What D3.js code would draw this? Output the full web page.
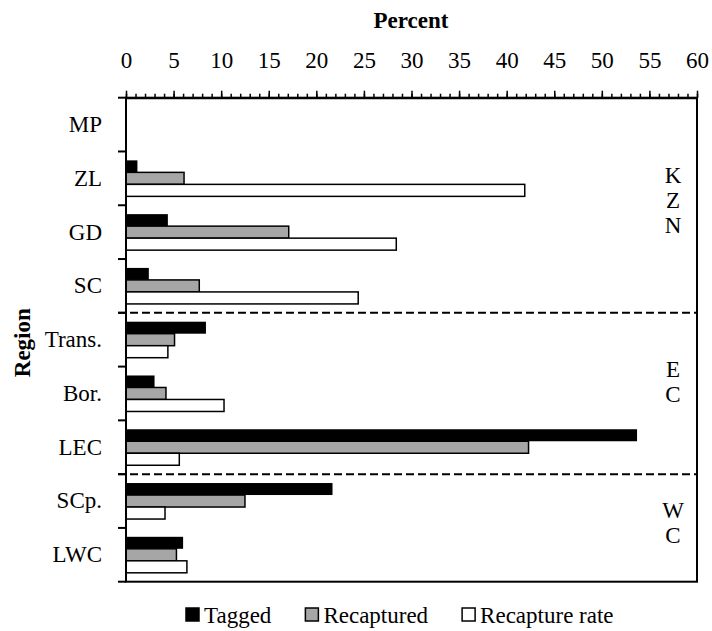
<!DOCTYPE html>
<html lang="en">
<head>
<meta charset="utf-8">
<title>Tagging by region</title>
<script src="https://d3js.org/d3.v7.min.js"></script>
<style>
  body { margin: 0; background: #fff; }
  text { font-family: "Liberation Serif", "Times New Roman", serif; fill: #000; }
</style>
</head>
<body>
<script>
// regions, top to bottom
var regions = ["MP", "ZL", "GD", "SC", "Trans.", "Bor.", "LEC", "SCp.", "LWC"];

// percent values
var tagged     = [0, 1.2, 4.4, 2.4, 8.4, 3.0, 53.7, 21.7, 6.0];
var recaptured = [0, 6.1, 17.1, 7.7, 5.1, 4.2, 42.3, 12.5, 5.3];
var rate       = [0, 41.9, 28.4, 24.4, 4.4, 10.3, 5.6, 4.1, 6.4];

var seriesNames = ["Tagged", "Recaptured", "Recapture rate"];
var seriesFill = ["#000000", "#a6a6a6", "#ffffff"];

// coast groups: label and first / last region
var groups = [
  { label: "KZN", from: "MP", to: "SC" },
  { label: "EC", from: "Trans.", to: "LEC" },
  { label: "WC", from: "SCp.", to: "LWC" }
];

var xTicks = d3.range(0, 61, 5);

var config = {
  w: 712,
  h: 631,
  left: 126,
  right: 697,
  top: 97.7,
  bottom: 581.7,
  font: 23,
  serif: "'Liberation Serif', 'Times New Roman', serif"
};

// nudge of the stacked coast labels from their section middle
var labelShift = { KZN: -5, EC: -12, WC: -5 };

var svg = d3.select("body").append("svg")
  .attr("width", config.w)
  .attr("height", config.h);

var x = d3.scaleLinear().domain([0, 60]).range([config.left, config.right]);

var y = d3.scaleBand().domain(regions).range([config.top, config.bottom]);

var ySub = d3.scaleBand().domain(seriesNames)
  .range([0, y.bandwidth()])
  .paddingInner(0)
  .paddingOuter(0.74);

// build table for bars
var table = [];
regions.forEach(function(r, i) {
  var vals = [tagged[i], recaptured[i], rate[i]];
  vals.forEach(function(v, j) {
    table.push({ region: r, series: seriesNames[j], value: v, fill: seriesFill[j] });
  });
});

// bars
svg.append("g").selectAll("rect")
  .data(table.filter(function(d) { return d.value > 0; }))
  .enter()
  .append("rect")
  .attr("x", x(0))
  .attr("y", function(d) { return y(d.region) + ySub(d.series); })
  .attr("width", function(d) { return x(d.value) - x(0); })
  .attr("height", ySub.bandwidth())
  .style("fill", function(d) { return d.fill; })
  .style("stroke", function(d) { return d.series == "Tagged" ? "none" : "#000"; })
  .style("stroke-width", 1.5);

// dashed separators between coasts
svg.append("g").selectAll("line")
  .data(groups.slice(1))
  .enter()
  .append("line")
  .attr("x1", config.left - 8)
  .attr("x2", config.right)
  .attr("y1", function(d) { return y(d.from); })
  .attr("y2", function(d) { return y(d.from); })
  .style("stroke", "#000")
  .style("stroke-width", 2)
  .style("stroke-dasharray", "8,4");

// plot frame
svg.append("rect")
  .attr("x", config.left)
  .attr("y", config.top)
  .attr("width", config.right - config.left)
  .attr("height", config.bottom - config.top)
  .style("fill", "none")
  .style("stroke", "#000")
  .style("stroke-width", 2);

// top axis: minor ticks
var minor = svg.append("g")
  .attr("transform", "translate(0," + config.top + ")")
  .call(d3.axisTop(x).tickValues(d3.range(0, 61)).tickSize(4).tickSizeOuter(0).tickFormat(""));
minor.select(".domain").remove();
minor.selectAll("line").style("stroke-width", 1.5);

// top axis: major ticks and labels
var major = svg.append("g")
  .attr("transform", "translate(0," + config.top + ")")
  .attr("font-family", null)
  .call(d3.axisTop(x).tickValues(xTicks).tickSize(7).tickSizeOuter(0).tickPadding(22.7));
major.select(".domain").style("stroke-width", 2);
major.selectAll("line").style("stroke-width", 1.5);
major.selectAll("text")
  .style("font-family", config.serif)
  .style("font-size", config.font + "px");

// left axis: category labels
var left = svg.append("g")
  .attr("transform", "translate(" + config.left + ",0)")
  .call(d3.axisLeft(y).tickSize(0).tickPadding(24));
left.select(".domain").remove();
left.selectAll("text")
  .style("font-family", config.serif)
  .style("font-size", config.font + "px");

// left axis: boundary ticks between categories
var bounds = regions.map(function(r) { return y(r); }).concat([config.bottom]);
svg.append("g").selectAll("line")
  .data(bounds)
  .enter()
  .append("line")
  .attr("x1", config.left - 8)
  .attr("x2", config.left)
  .attr("y1", function(d) { return d; })
  .attr("y2", function(d) { return d; })
  .style("stroke", "#000")
  .style("stroke-width", 2);

// coast labels, stacked letters on the right
groups.forEach(function(g) {
  var y0 = y(g.from);
  var y1 = y(g.to) + y.bandwidth();
  var letters = g.label.split("");
  var lh = 25;
  var mid = (y0 + y1) / 2 + labelShift[g.label];
  var start = mid - (letters.length - 1) * lh / 2;
  svg.append("g").selectAll("text")
    .data(letters)
    .enter()
    .append("text")
    .attr("x", 673)
    .attr("y", function(d, i) { return start + i * lh; })
    .attr("dy", "0.35em")
    .attr("text-anchor", "middle")
    .style("font-family", config.serif)
    .style("font-size", config.font + "px")
    .text(function(d) { return d; });
});

// axis titles
svg.append("text")
  .attr("x", 411)
  .attr("y", 28)
  .attr("text-anchor", "middle")
  .style("font-family", config.serif)
  .style("font-weight", "bold")
  .style("font-size", config.font + "px")
  .text("Percent");

svg.append("text")
  .attr("transform", "translate(30," + ((config.top + config.bottom) / 2 + 3) + ") rotate(-90)")
  .attr("text-anchor", "middle")
  .style("font-family", config.serif)
  .style("font-weight", "bold")
  .style("font-size", config.font + "px")
  .text("Region");

// legend
var legend = svg.append("g");
var lx = 186;
seriesNames.forEach(function(name, i) {
  legend.append("rect")
    .attr("x", lx)
    .attr("y", 608)
    .attr("width", 13)
    .attr("height", 13)
    .style("fill", seriesFill[i])
    .style("stroke", "#000")
    .style("stroke-width", 1.5);
  var t = legend.append("text")
    .attr("x", lx + 18)
    .attr("y", 623)
    .style("font-family", config.serif)
    .style("font-size", config.font + "px")
    .text(name);
  lx = lx + 18 + t.node().getComputedTextLength() + 34;
});
</script>
</body>
</html>
